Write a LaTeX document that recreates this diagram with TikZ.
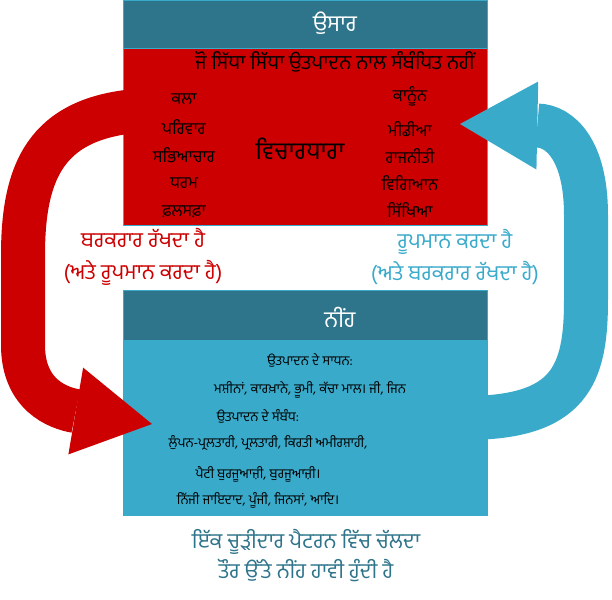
\documentclass[tikz,border=0pt]{standalone}
\usepackage{fontspec}
\setmainfont{Hind Jalandhar}[Script=Gurmukhi]
\usetikzlibrary{arrows.meta}

\definecolor{headteal}{RGB}{46,116,138}
\definecolor{suprred}{RGB}{204,0,0}
\definecolor{baseblue}{RGB}{58,170,203}

\tikzset{every picture/.style={line width=0.75pt}}
\tikzset{
  every node/.style={inner sep=0.5pt},
  headtext/.style={text=white, font=\fontsize{17}{20}\selectfont},
  itemtext/.style={font=\fontsize{12.5}{15}\selectfont},
  bigtext/.style={font=\fontsize{18}{21}\selectfont},
  flowtext/.style={align=center, font=\fontsize{16}{24}\selectfont},
  basetext/.style={font=\fontsize{10}{12}\selectfont},
  foottext/.style={text=headteal, font=\fontsize{16}{20}\selectfont},
  bigarrow/.style={line width=33pt, -{Triangle[length=58pt,width=66pt,line width=0pt]}}
}

\begin{document}
\begin{tikzpicture}[x=0.75pt,y=0.75pt,yscale=-1,xscale=1]
  \useasboundingbox (0,0) rectangle (612,600);

  % superstructure
  \draw [draw=baseblue, fill=headteal] (123,0) rectangle (487,48) ;
  \draw [draw=baseblue, fill=suprred] (123,48) rectangle (487,225) ;
  % base
  \draw [draw=baseblue, fill=headteal] (123,290) rectangle (487,340) ;
  \draw [draw=baseblue, fill=baseblue] (123,340) rectangle (487,515) ;

  \coordinate (redtail) at (150,110);
  \coordinate (redtip) at (152,424);
  \coordinate (bluetail) at (465,418);
  \coordinate (bluetip) at (460,124);

  \draw [bigarrow, suprred] (redtail) .. controls (50,114) and (23,165) .. (23,255) -- (23,345) .. controls (23,395) and (58,408) .. (redtip) ;
  \draw [bigarrow, baseblue] (bluetail) .. controls (570,418) and (586,375) .. (586,300) -- (586,215) .. controls (586,150) and (560,126) .. (bluetip) ;

  \draw (335,23) node [headtext] (suptitle) {ਉਸਾਰ};
  \draw (335,62) node [font=\fontsize{15}{18}\selectfont] (nondirect) {ਜੋ ਸਿੱਧਾ ਸਿੱਧਾ ਉਤਪਾਦਨ ਨਾਲ ਸੰਬੰਧਿਤ ਨਹੀਂ};

  \draw (184,99) node [itemtext] (art) {ਕਲਾ};
  \draw (184,127) node [itemtext] (family) {ਪਰਿਵਾਰ};
  \draw (184,155) node [itemtext] (culture) {ਸਭਿਆਚਾਰ};
  \draw (184,183) node [itemtext] (religion) {ਧਰਮ};
  \draw (184,212) node [itemtext] (philosophy) {ਫ਼ਲਸਫ਼ਾ};
  \draw (410,96) node [itemtext] (law) {ਕਾਨੂੰਨ};
  \draw (410,129) node [itemtext] (media) {ਮੀਡੀਆ};
  \draw (410,156) node [itemtext] (politics) {ਰਾਜਨੀਤੀ};
  \draw (410,183) node [itemtext] (science) {ਵਿਗਿਆਨ};
  \draw (410,210) node [itemtext] (education) {ਸਿੱਖਿਆ};
  \draw (300,149) node [bigtext] (ideology) {ਵਿਚਾਰਧਾਰਾ};

  \draw (143,257) node [flowtext, text=suprred] (maintains) {ਬਰਕਰਾਰ ਰੱਖਦਾ ਹੈ\\(ਅਤੇ ਰੂਪਮਾਨ ਕਰਦਾ ਹੈ)};
  \draw (455,257) node [flowtext, text=baseblue] (shapes) {ਰੂਪਮਾਨ ਕਰਦਾ ਹੈ\\(ਅਤੇ ਬਰਕਰਾਰ ਰੱਖਦਾ ਹੈ)};

  \draw (340,317) node [headtext] (basetitle) {ਨੀਂਹ};
  \draw (310,360) node [basetext] (means) {ਉਤਪਾਦਨ ਦੇ ਸਾਧਨ:};
  \draw (310,390) node [basetext] (meanslist) {ਮਸ਼ੀਨਾਂ, ਕਾਰਖ਼ਾਨੇ, ਭੂਮੀ, ਕੱਚਾ ਮਾਲ। ਜੀ, ਜਿਨ};
  \draw (258,416) node [basetext] (relations) {ਉਤਪਾਦਨ ਦੇ ਸੰਬੰਧ:};
  \draw (268,443) node [basetext] (classesa) {ਲੁੰਪਨ-ਪ੍ਰਲਤਾਰੀ, ਪ੍ਰਲਤਾਰੀ, ਕਿਰਤੀ ਅਮੀਰਸ਼ਾਹੀ,};
  \draw (258,474) node [basetext] (classesb) {ਪੈਟੀ ਬੁਰਜੂਆਜ਼ੀ, ਬੁਰਜੂਆਜ਼ੀ।};
  \draw (258,500) node [basetext] (property) {ਨਿੱਜੀ ਜਾਇਦਾਦ, ਪੂੰਜੀ, ਜਿਨਸਾਂ, ਆਦਿ।};

  \draw (306,542) node [foottext] (spiral) {ਇੱਕ ਚੂੜੀਦਾਰ ਪੈਟਰਨ ਵਿੱਚ ਚੱਲਦਾ};
  \draw (306,571) node [foottext] (dominant) {ਤੌਰ ਉੱਤੇ ਨੀਂਹ ਹਾਵੀ ਹੁੰਦੀ ਹੈ};

\end{tikzpicture}
\end{document}
